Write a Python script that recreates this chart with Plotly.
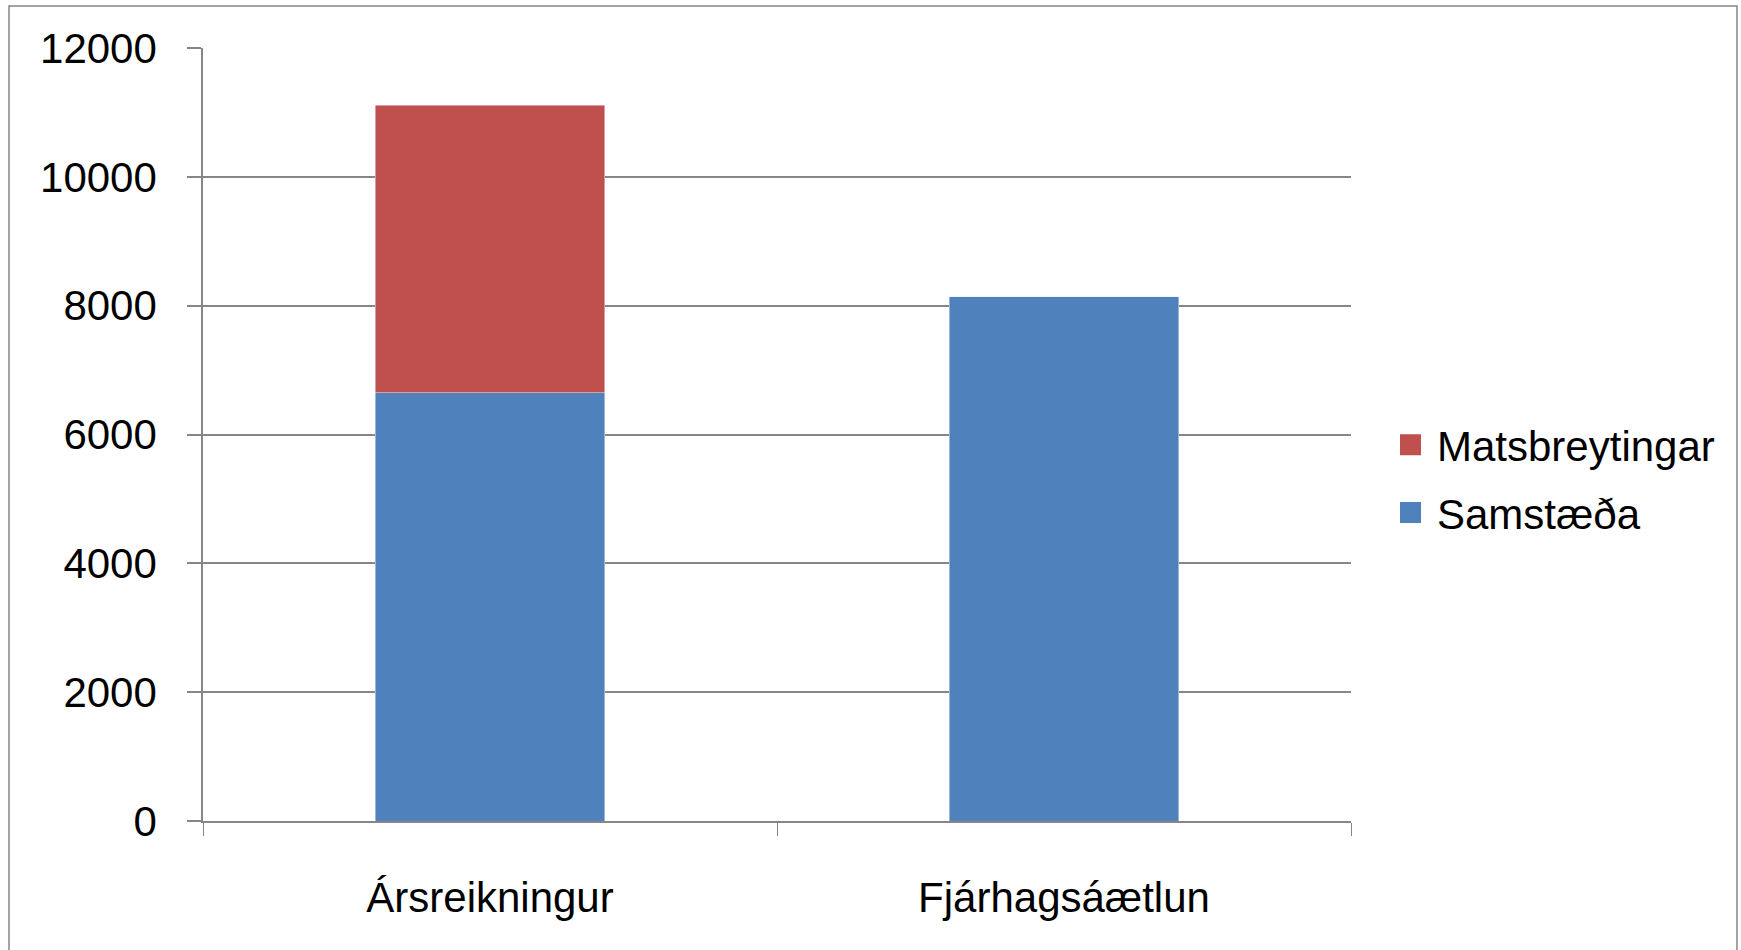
import plotly.graph_objects as go

categories = ["Ársreikningur", "Fjárhagsáætlun"]
samstaeda = [6645, 8137]
matsbreytingar = [4470, None]
series_names = ["Matsbreytingar", "Samstæða"]
colors = {"Matsbreytingar": "#C0504D", "Samstæða": "#4F81BD"}
y_ticks = [0, 2000, 4000, 6000, 8000, 10000, 12000]
y_tick_labels = ["0", "2000", "4000", "6000", "8000", "10000", "12000"]

W, H = 1741, 950
PL, PR, PT, PB = 203, 1351, 48, 821
L, T = PL, PT
R, B = W - PR, H - PB
pw, ph = W - L - R, H - T - B

def px_x(px):
    return (px - L) / pw

def px_y(py):
    return (H - B - py) / ph

FONT = "Liberation Sans, Arial, sans-serif"
GRAY = "#868686"

fig = go.Figure()
fig.add_bar(x=categories, y=samstaeda, name="Samstæða", marker_color=colors["Samstæða"],
            width=0.4, showlegend=False)
fig.add_bar(x=categories, y=matsbreytingar, name="Matsbreytingar", marker_color=colors["Matsbreytingar"],
            width=0.4, showlegend=False)

for i, nm in enumerate(series_names):
    fig.add_scatter(x=[None], y=[None], mode="markers", name=nm, legendgroup=str(i),
                    marker=dict(symbol="square", size=16, color=colors[nm],
                                line=dict(width=5, color=colors[nm])))

fig.update_layout(
    width=W, height=H, barmode="stack",
    margin=dict(l=L, r=R, t=T, b=B, pad=0, autoexpand=False),
    paper_bgcolor="white", plot_bgcolor="white",
    font=dict(family=FONT, size=42, color="black"),
    legend=dict(x=px_x(1384), xanchor="left", y=px_y(479), yanchor="middle",
                font=dict(size=42, family=FONT), tracegroupgap=10,
                bgcolor="rgba(0,0,0,0)", traceorder="grouped", itemwidth=43),
    xaxis=dict(type="category", showgrid=False, showline=True, linecolor=GRAY, linewidth=1.5,
               ticks="outside", tickson="boundaries", ticklen=13, tickcolor=GRAY, tickwidth=1,
               ticklabelstandoff=39, range=[-0.5, 1.5], automargin=False),
    yaxis=dict(range=[0, 12000], tickvals=y_ticks, ticktext=y_tick_labels, showgrid=True,
               gridcolor=GRAY, gridwidth=1.5, automargin=False,
               showline=True, linecolor=GRAY, linewidth=1.5, ticks="outside", ticklen=14,
               tickcolor=GRAY, tickwidth=1.5, ticklabelstandoff=22, zeroline=False),
    shapes=[dict(type="rect", xref="paper", yref="paper",
                 x0=px_x(9), x1=px_x(1737), y0=px_y(970), y1=px_y(6),
                 line=dict(color=GRAY, width=1.5), fillcolor="rgba(0,0,0,0)", layer="below")],
)

fig.write_html("out.html", config={"displayModeBar": False},
               post_script="document.body.style.margin='0';document.body.style.overflow='hidden';")
